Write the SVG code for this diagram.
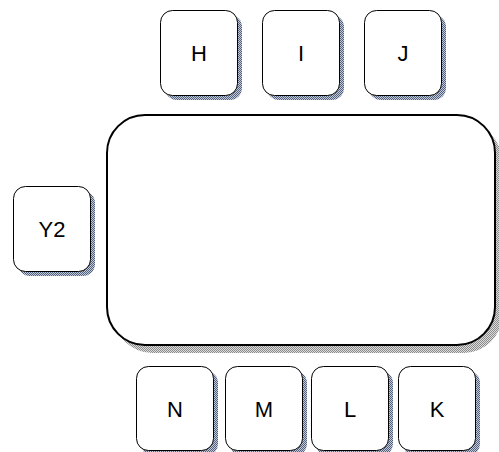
<svg xmlns="http://www.w3.org/2000/svg" width="499" height="452" viewBox="0 0 499 452">
  <defs>
    <pattern id="pb" width="2" height="2" patternUnits="userSpaceOnUse">
      <rect width="2" height="2" fill="#c4cad8"/>
      <rect width="1" height="1" fill="#51607f"/>
      <rect x="1" y="1" width="1" height="1" fill="#51607f"/>
    </pattern>
    <pattern id="pg" width="2" height="2" patternUnits="userSpaceOnUse">
      <rect width="2" height="2" fill="#dddddd"/>
      <rect width="1" height="1" fill="#8a8a8a"/>
      <rect x="1" y="1" width="1" height="1" fill="#8a8a8a"/>
    </pattern>
  </defs>
  <style>
    .sh { fill: url(#pb); }
    .shg { fill: url(#pg); }
    .box { fill: #ffffff; stroke: #000000; stroke-width: 1; }
    .main { fill: #ffffff; stroke: #000000; stroke-width: 2; }
    .lbl { font-family: "Liberation Sans", Arial, sans-serif; font-size: 22px; fill: #000000; text-anchor: middle; dominant-baseline: central; }
  </style>
  <g id="connectors"></g>
  <g id="main">
    <rect class="shg" x="114" y="123" width="388" height="230" rx="38"/>
    <rect class="main" x="107" y="115" width="388" height="230" rx="38"/>
  </g>
  <g id="H">
    <rect class="sh" x="165" y="15" width="77" height="85" rx="12"/>
    <rect class="box" x="160.5" y="10.5" width="77" height="85" rx="12"/>
    <text class="lbl" x="199" y="53">H</text>
  </g>
  <g id="I">
    <rect class="sh" x="267" y="15" width="77" height="85" rx="12"/>
    <rect class="box" x="262.5" y="10.5" width="77" height="85" rx="12"/>
    <text class="lbl" x="301" y="53">I</text>
  </g>
  <g id="J">
    <rect class="sh" x="369" y="15" width="77" height="85" rx="12"/>
    <rect class="box" x="364.5" y="10.5" width="77" height="85" rx="12"/>
    <text class="lbl" x="403" y="53">J</text>
  </g>
  <g id="Y2">
    <rect class="sh" x="18" y="191" width="77" height="85" rx="12"/>
    <rect class="box" x="13.5" y="186.5" width="77" height="85" rx="12"/>
    <text class="lbl" x="52" y="229">Y2</text>
  </g>
  <g id="N">
    <rect class="sh" x="141" y="371" width="77" height="85" rx="12"/>
    <rect class="box" x="136.5" y="366.5" width="77" height="84" rx="12"/>
    <text class="lbl" x="175" y="409">N</text>
  </g>
  <g id="M">
    <rect class="sh" x="230" y="371" width="77" height="85" rx="12"/>
    <rect class="box" x="225.5" y="366.5" width="77" height="84" rx="12"/>
    <text class="lbl" x="264" y="409">M</text>
  </g>
  <g id="L">
    <rect class="sh" x="316" y="371" width="77" height="85" rx="12"/>
    <rect class="box" x="311.5" y="366.5" width="77" height="84" rx="12"/>
    <text class="lbl" x="350" y="409">L</text>
  </g>
  <g id="K">
    <rect class="sh" x="403" y="371" width="77" height="85" rx="12"/>
    <rect class="box" x="398.5" y="366.5" width="77" height="84" rx="12"/>
    <text class="lbl" x="437" y="409">K</text>
  </g>
</svg>
